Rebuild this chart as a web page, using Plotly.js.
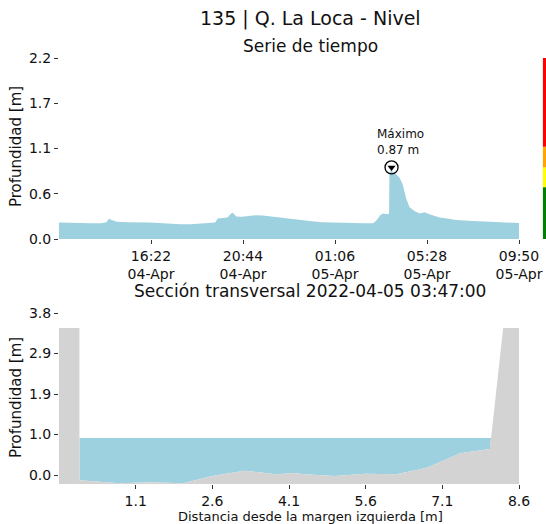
<!DOCTYPE html>
<html>
<head>
<meta charset="utf-8">
<script src="https://cdn.plot.ly/plotly-3.0.1.min.js"></script>
<style>html,body{margin:0;padding:0;background:#fff;}#chart{width:546px;height:524px;}</style>
</head>
<body>
<div id="chart"></div>
<script>
// ---- Time series (level, m) ----
const seriesTime = [
  '2022-04-04 12:00','2022-04-04 12:30','2022-04-04 13:00','2022-04-04 13:30','2022-04-04 14:00',
  '2022-04-04 14:15','2022-04-04 14:22','2022-04-04 14:30','2022-04-04 14:45','2022-04-04 15:15',
  '2022-04-04 15:45','2022-04-04 16:15','2022-04-04 16:45','2022-04-04 17:15','2022-04-04 17:45',
  '2022-04-04 18:15','2022-04-04 18:45','2022-04-04 19:15','2022-04-04 19:25','2022-04-04 19:32',
  '2022-04-04 19:50','2022-04-04 20:00','2022-04-04 20:10','2022-04-04 20:15','2022-04-04 20:25',
  '2022-04-04 20:40','2022-04-04 21:00','2022-04-04 21:20','2022-04-04 21:40','2022-04-04 22:00',
  '2022-04-04 22:30','2022-04-04 23:00','2022-04-04 23:30','2022-04-05 00:00','2022-04-05 00:30',
  '2022-04-05 01:00','2022-04-05 01:30','2022-04-05 02:00','2022-04-05 02:30','2022-04-05 02:55',
  '2022-04-05 03:05','2022-04-05 03:15','2022-04-05 03:22','2022-04-05 03:36','2022-04-05 03:40',
  '2022-04-05 03:41','2022-04-05 03:44','2022-04-05 03:47','2022-04-05 03:50','2022-04-05 04:00',
  '2022-04-05 04:10','2022-04-05 04:19','2022-04-05 04:29','2022-04-05 04:38','2022-04-05 04:52',
  '2022-04-05 05:07','2022-04-05 05:21','2022-04-05 05:35','2022-04-05 06:04','2022-04-05 06:30',
  '2022-04-05 06:51','2022-04-05 07:39','2022-04-05 08:26','2022-04-05 09:14','2022-04-05 09:50'
];
const seriesLevel = [
  0.20,0.20,0.195,0.19,0.19,
  0.205,0.245,0.23,0.21,0.205,
  0.205,0.20,0.195,0.185,0.18,
  0.18,0.185,0.19,0.20,0.25,
  0.255,0.26,0.31,0.32,0.275,
  0.27,0.28,0.29,0.285,0.275,
  0.255,0.24,0.225,0.215,0.205,
  0.20,0.195,0.19,0.19,0.19,
  0.23,0.29,0.31,0.30,0.31,
  0.80,0.82,0.87,0.81,0.79,
  0.745,0.66,0.49,0.39,0.34,
  0.31,0.325,0.30,0.26,0.245,
  0.23,0.22,0.207,0.20,0.195
];
const maxTime = '2022-04-05 03:47:00';
const maxLevel = 0.87;

const timeRange = ['2022-04-04 12:00','2022-04-05 09:50'];
const timeTickVals = ['2022-04-04 16:22','2022-04-04 20:44','2022-04-05 01:06','2022-04-05 05:28','2022-04-05 09:50'];
const timeTickText = ['16:22<br>04-Apr','20:44<br>04-Apr','01:06<br>05-Apr','05:28<br>05-Apr','09:50<br>05-Apr'];
const levelTickVals = [0, 0.55, 1.1, 1.65, 2.2];
const levelTickText = ['0.0','0.6','1.1','1.7','2.2'];

// alert thresholds (colour strip)
const alertBounds = [0, 0.63, 0.87, 1.12, 2.2];
const alertColors = ['#008000','#ffff00','#ffa500','#ff0000'];

// ---- Cross section ----
const secDist = [-0.4, 0.0, 0.0, 0.79, 1.38, 2.03, 2.6, 3.23, 3.86, 4.21, 4.4, 5.0, 5.6, 6.2, 6.8, 7.45, 8.03, 8.29, 8.6];
const secBed  = [3.45, 3.45, -0.12, -0.19, -0.17, -0.19, -0.02, 0.10, 0.02, 0.05, 0.02, -0.02, 0.03, 0.02, 0.17, 0.51, 0.61, 3.45, 3.45];
const waterLevel = 0.87;
const distTickVals = [1.1, 2.6, 4.1, 5.6, 7.1, 8.6];
const secTickVals = [0, 0.95, 1.9, 2.85, 3.8];
const secTickText = ['0.0','1.0','1.9','2.9','3.8'];

const BLUE = 'rgb(158,209,223)';
const GRAY = '#d3d3d3';
const FONT = 'DejaVu Sans, sans-serif';
const TXT = '#111';

// water polygon: bed below water level, clipped at the banks
const wx = [], wy = [];
for (let i = 0; i < secDist.length - 1; i++) {
  const x0 = secDist[i], y0 = secBed[i], x1 = secDist[i+1], y1 = secBed[i+1];
  const in0 = y0 < waterLevel, in1 = y1 < waterLevel;
  if (in0) { wx.push(x0); wy.push(y0); }
  if (in0 !== in1) {
    const t = (waterLevel - y0) / (y1 - y0);
    wx.push(x0 + t * (x1 - x0)); wy.push(waterLevel);
  }
}
// ground polygon
const gx = secDist.concat([secDist[secDist.length-1], secDist[0]]);
const gy = secBed.concat([-1, -1]);

const traces = [
  {x: seriesTime, y: seriesLevel, type: 'scatter', mode: 'lines', fill: 'tozeroy',
   fillcolor: BLUE, line: {width: 0, color: BLUE}, xaxis: 'x', yaxis: 'y', hoverinfo: 'skip'},
  {x: [maxTime], y: [maxLevel], type: 'scatter', mode: 'markers', xaxis: 'x', yaxis: 'y',
   marker: {symbol: 'circle-open', size: 13, color: '#000', line: {width: 1.3, color: '#000'}}, cliponaxis: false},
  {x: [maxTime], y: [maxLevel], type: 'scatter', mode: 'markers', xaxis: 'x', yaxis: 'y',
   marker: {symbol: 'triangle-down', size: 7, color: '#000'}, cliponaxis: false},
  {x: wx, y: wy, type: 'scatter', mode: 'lines', fill: 'toself', fillcolor: BLUE,
   line: {width: 0, color: BLUE}, xaxis: 'x2', yaxis: 'y2', hoverinfo: 'skip'},
  {x: gx, y: gy, type: 'scatter', mode: 'lines', fill: 'toself', fillcolor: GRAY,
   line: {width: 0, color: GRAY}, xaxis: 'x2', yaxis: 'y2', hoverinfo: 'skip'}
];

const axBase = {showgrid: false, zeroline: false, showline: false, ticks: 'outside', ticklen: 4,
  tickwidth: 1, tickcolor: '#333', tickfont: {family: FONT, size: 14, color: TXT}, fixedrange: true};

const shapes = [];
for (let i = 0; i < alertColors.length; i++) {
  shapes.push({type: 'rect', xref: 'paper', yref: 'y', x0: 1.052, x1: 1.07,
    y0: alertBounds[i], y1: alertBounds[i+1], fillcolor: alertColors[i], line: {width: 0}, layer: 'above'});
}

const cx = (310 - 59) / 460;
const annotations = [
  {text: '135 | Q. La Loca - Nivel', xref: 'paper', yref: 'paper', x: cx, y: 1 - 19/524, showarrow: false,
   xanchor: 'center', yanchor: 'middle', font: {family: FONT, size: 19, color: TXT}},
  {text: 'Serie de tiempo', xref: 'paper', yref: 'paper', x: cx, y: 1 - 46/524, showarrow: false,
   xanchor: 'center', yanchor: 'middle', font: {family: FONT, size: 17, color: TXT}},
  {text: 'Sección transversal ' + maxTime, xref: 'paper', yref: 'paper', x: cx, y: 1 - 291/524, showarrow: false,
   xanchor: 'center', yanchor: 'middle', font: {family: FONT, size: 17, color: TXT}},
  {text: 'Profundidad [m]', xref: 'paper', yref: 'paper', x: (16 - 59)/460, y: 1 - 147/524, textangle: -90,
   showarrow: false, xanchor: 'center', yanchor: 'middle', font: {family: FONT, size: 15, color: TXT}},
  {text: 'Profundidad [m]', xref: 'paper', yref: 'paper', x: (16 - 59)/460, y: 1 - 398/524, textangle: -90,
   showarrow: false, xanchor: 'center', yanchor: 'middle', font: {family: FONT, size: 15, color: TXT}},
  {text: 'Distancia desde la margen izquierda [m]', xref: 'paper', yref: 'paper', x: cx, y: 1 - 516/524,
   showarrow: false, xanchor: 'center', yanchor: 'middle', font: {family: FONT, size: 13, color: TXT}},
  {text: 'Máximo<br>' + maxLevel.toFixed(2) + ' m', xref: 'x', yref: 'y', x: maxTime, y: maxLevel,
   showarrow: false, xanchor: 'left', yanchor: 'bottom', align: 'left', xshift: -17, yshift: 8,
   font: {family: FONT, size: 12, color: TXT}}
];

const layout = {
  width: 546, height: 524,
  margin: {l: 59, r: 27, t: 0, b: 0},
  paper_bgcolor: '#fff', plot_bgcolor: '#fff',
  showlegend: false,
  xaxis: Object.assign({}, axBase, {type: 'date', domain: [0, 1], anchor: 'y', range: timeRange,
    tickmode: 'array', tickvals: timeTickVals, ticktext: timeTickText}),
  yaxis: Object.assign({}, axBase, {domain: [1 - 239/524, 1 - 58/524], anchor: 'x', range: [0, 2.2],
    tickmode: 'array', tickvals: levelTickVals, ticktext: levelTickText}),
  xaxis2: Object.assign({}, axBase, {domain: [0, 1], anchor: 'y2', range: [-0.4, 8.6],
    tickmode: 'array', tickvals: distTickVals, ticktext: distTickVals.map(v => v.toFixed(1))}),
  yaxis2: Object.assign({}, axBase, {domain: [1 - 484/524, 1 - 313/524], anchor: 'x2', range: [-0.21, 3.8],
    tickmode: 'array', tickvals: secTickVals, ticktext: secTickText}),
  shapes: shapes,
  annotations: annotations
};

Plotly.newPlot('chart', traces, layout, {displayModeBar: false, staticPlot: true});
</script>
</body>
</html>
